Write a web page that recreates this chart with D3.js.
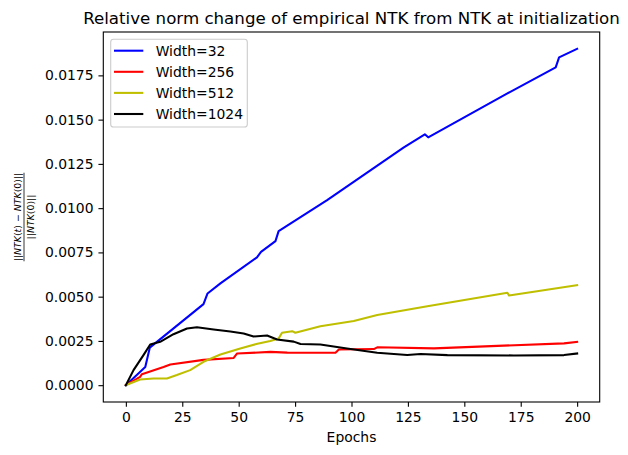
<!DOCTYPE html>
<html>
<head>
<meta charset="utf-8">
<script src="https://cdn.jsdelivr.net/npm/d3@7"></script>
<style>
  body { margin: 0; background: #fff; }
  svg text { font-family: "DejaVu Sans", sans-serif; }
</style>
</head>
<body>
<svg id="chart" width="628" height="455"></svg>
<script>
// values: [epoch, relative change]
var width32 = [[0, 0], [8.6, 0.00103], [10.6, 0.00212], [34.4, 0.00458], [36.2, 0.00518], [41.9, 0.00575],
    [58.1, 0.00722], [59.9, 0.00753], [66.3, 0.00814], [67.7, 0.0087], [89.2, 0.01045], [123.2, 0.01343],
    [132.5, 0.01417], [134, 0.0140], [169.1, 0.01648], [190.5, 0.01795], [192, 0.01852], [200, 0.01900]];
var width256 = [[0, 0], [6.3, 0.00047], [7.1, 0.00062], [16.7, 0.00103], [19.7, 0.00117], [34.4, 0.00143],
    [47.8, 0.00154], [49.3, 0.00179], [64, 0.00188], [71.5, 0.00184], [86.2, 0.00183], [92.9, 0.00183],
    [94.4, 0.00202], [109.9, 0.00204], [111.4, 0.00214], [136.5, 0.00208], [164.7, 0.00222],
    [194.2, 0.00236], [200, 0.00245]];
var width512 = [[0, 0], [6.3, 0.00032], [12.2, 0.00038], [18.2, 0.00038], [22.6, 0.00057], [28.5, 0.00085],
    [34.4, 0.00132], [41.9, 0.00173], [50.7, 0.00207], [57.8, 0.00232], [64, 0.0025], [67.7, 0.00264],
    [69.2, 0.00296], [73.7, 0.00305], [75.1, 0.00296], [86.2, 0.00333], [101, 0.00363], [111.4, 0.00396],
    [133.6, 0.00446], [169.1, 0.00522], [169.8, 0.00507], [200, 0.00565]];
var width1024 = [[0, 0], [3.4, 0.00085], [7.8, 0.0017], [10.8, 0.0023], [15.2, 0.00245], [21.1, 0.00288],
    [27.1, 0.0032], [31.5, 0.00327], [38.9, 0.00315], [46.3, 0.00303], [52.2, 0.00292], [56.6, 0.00275],
    [62.6, 0.00281], [67, 0.00258], [74.4, 0.00246], [77.4, 0.00233], [86.2, 0.0023], [98, 0.00207],
    [111.4, 0.00183], [124.7, 0.0017], [130.6, 0.00176], [142.5, 0.0017], [172, 0.00168],
    [194.2, 0.0017], [200, 0.00179]];

var seriesNames = ['Width=32', 'Width=256', 'Width=512', 'Width=1024'];
var seriesColors = ['#0000ff', '#ff0000', '#bfbf00', '#000000'];
var seriesData = [width32, width256, width512, width1024];
var xTicks = [0, 25, 50, 75, 100, 125, 150, 175, 200];
var yTicks = [0, 0.0025, 0.005, 0.0075, 0.01, 0.0125, 0.015, 0.0175];

var svg = d3.select('#chart');
var plotLeft = 103.3, plotRight = 599.7, plotTop = 32, plotBottom = 402;

var x = d3.scaleLinear().domain([-10, 210]).range([plotLeft, plotRight]);
var y = d3.scaleLinear().domain([-0.00095, 0.01995]).range([plotBottom, plotTop]);

var plot = svg.append('g');
var line = d3.line().x(function(d) { return x(d[0]); }).y(function(d) { return y(d[1]); });

for (var i = 0; i < seriesData.length; i++) {
    plot.append('path').attr('d', line(seriesData[i]))
        .attr('fill', 'none').attr('stroke', seriesColors[i]).attr('stroke-width', 2.08)
        .attr('stroke-linejoin', 'round').attr('stroke-linecap', 'square');
}

// axes
var xAxis = d3.axisBottom(x).tickValues(xTicks).tickSize(4.86).tickPadding(4.9).tickFormat(d3.format('d'));
var yAxis = d3.axisLeft(y).tickValues(yTicks).tickSize(4.86).tickPadding(4.9).tickFormat(d3.format('.4f'));

var gx = svg.append('g').attr('transform', 'translate(0,' + plotBottom + ')').call(xAxis);
var gy = svg.append('g').attr('transform', 'translate(' + plotLeft + ',0)').call(yAxis);
[gx, gy].forEach(function(g) {
    g.select('.domain').remove();
    g.selectAll('.tick line').attr('stroke', '#000').attr('stroke-width', 1.1);
    g.selectAll('.tick text').attr('fill', '#000').style('font-size', '13.9px')
        .style('font-family', '"DejaVu Sans", sans-serif');
});

svg.append('rect').attr('x', plotLeft).attr('y', plotTop)
    .attr('width', plotRight - plotLeft).attr('height', plotBottom - plotTop)
    .attr('fill', 'none').attr('stroke', '#000').attr('stroke-width', 1.1);

// title and x label
svg.append('text').attr('x', (plotLeft + plotRight) / 2).attr('y', 24).attr('text-anchor', 'middle')
    .style('font-size', '16.67px').text('Relative norm change of empirical NTK from NTK at initialization');
svg.append('text').attr('x', (plotLeft + plotRight) / 2).attr('y', 442).attr('text-anchor', 'middle')
    .style('font-size', '13.9px').text('Epochs');

// y label: fraction, rotated
var ylab = svg.append('g').attr('transform', 'translate(24,217) rotate(-90)');
var num = ylab.append('text').attr('x', 0).attr('y', -3).attr('text-anchor', 'middle').style('font-size', '9.4px');
num.append('tspan').text('||');
num.append('tspan').style('font-style', 'italic').text('NTK');
num.append('tspan').text('(');
num.append('tspan').style('font-style', 'italic').text('t');
num.append('tspan').text(') \u2212 ');
num.append('tspan').style('font-style', 'italic').text('NTK');
num.append('tspan').text('(0)||');
var den = ylab.append('text').attr('x', 0).attr('y', 9.5).attr('text-anchor', 'middle').style('font-size', '9.4px');
den.append('tspan').text('||');
den.append('tspan').style('font-style', 'italic').text('NTK');
den.append('tspan').text('(0)||');
var numWidth = num.node().getComputedTextLength();
ylab.append('line').attr('x1', -numWidth / 2).attr('x2', numWidth / 2).attr('y1', 0).attr('y2', 0)
    .attr('stroke', '#000').attr('stroke-width', 0.8);

// legend
var legend = svg.append('g');
legend.append('rect').attr('x', 110.7).attr('y', 39.3).attr('width', 136.6).attr('height', 87.7)
    .attr('rx', 2.8).attr('fill', '#fff').attr('fill-opacity', 0.8).attr('stroke', '#cccccc').attr('stroke-width', 1.1);
seriesNames.forEach(function(name, i) {
    var ly = 50.7 + i * 21.1;
    legend.append('line').attr('x1', 114).attr('x2', 143.3).attr('y1', ly).attr('y2', ly)
        .attr('stroke', seriesColors[i]).attr('stroke-width', 2.08);
    legend.append('text').attr('x', 155.7).attr('y', ly + 5).style('font-size', '13.9px').text(name);
});
</script>
</body>
</html>
